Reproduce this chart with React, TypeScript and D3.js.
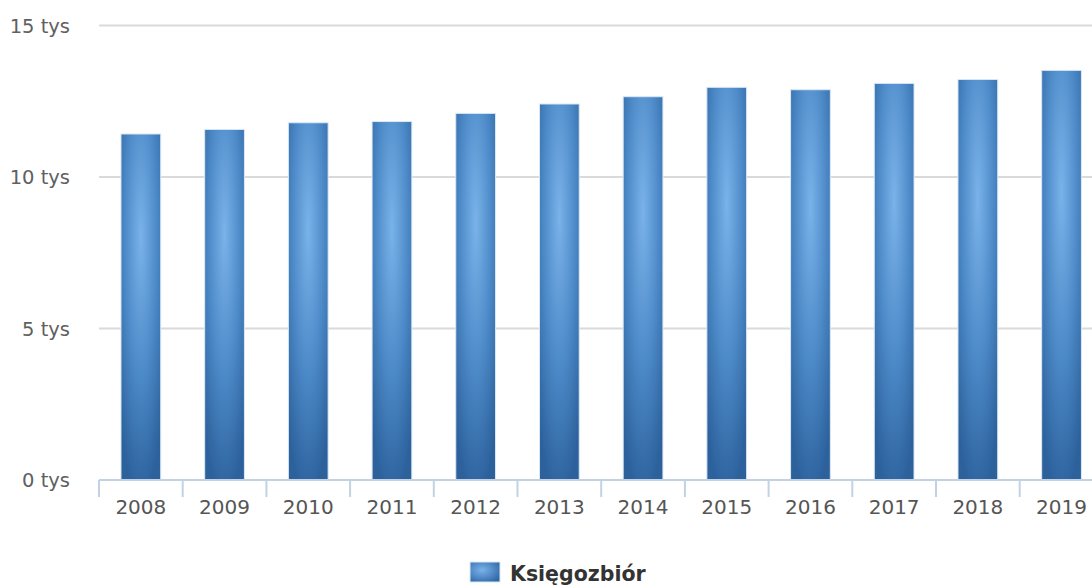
import React from "react";
import * as d3 from "d3";

const years = ["2008", "2009", "2010", "2011", "2012", "2013", "2014", "2015", "2016", "2017", "2018", "2019"];
const values = [11.42, 11.57, 11.79, 11.83, 12.1, 12.41, 12.65, 12.96, 12.88, 13.09, 13.22, 13.52];
const yTicks = [0, 5, 10, 15];
const seriesName = "Księgozbiór";

const W = 1092;
const H = 585;

export default function App() {
  const x = d3.scaleBand<string>().domain(years).range([99, 99 + 12 * 83.7]).padding(0);
  const y = d3.scaleLinear().domain([0, 15]).range([480, 25.5]);
  const barW = x.bandwidth() * 0.475;
  const font = "'DejaVu Sans', 'Open Sans', sans-serif";

  return (
    <svg width={W} height={H} style={{ position: "absolute", left: 0, top: 0, background: "#fff" }}>
      <defs>
        <radialGradient id="barGrad" cx="0.5" cy="0.3" r="0.75" fx="0.5" fy="0.3">
          <stop offset="0%" stopColor="#7ab3ea" />
          <stop offset="55%" stopColor="#4b88c6" />
          <stop offset="100%" stopColor="#2c619c" />
        </radialGradient>
        <radialGradient id="legGrad" cx="0.4" cy="0.4" r="0.7">
          <stop offset="0%" stopColor="#7ab3ea" />
          <stop offset="100%" stopColor="#2f68a6" />
        </radialGradient>
      </defs>

      {yTicks.map((t) => (
        <g key={t}>
          {t > 0 && (
            <line x1={99} x2={W} y1={y(t)} y2={y(t)} stroke="#dadada" strokeWidth={2} />
          )}
          <text
            x={70}
            y={y(t)}
            dy="0.36em"
            textAnchor="end"
            fontFamily={font}
            fontSize={19.5}
            fill="#606060"
          >
            {t} tys
          </text>
        </g>
      ))}

      {years.map((yr, i) => {
        const cx = (x(yr) as number) + x.bandwidth() / 2;
        return (
          <rect
            key={yr}
            x={cx - barW / 2}
            y={y(values[i])}
            width={barW}
            height={y(0) - y(values[i])}
            fill="url(#barGrad)"
            stroke="#dbe8f5"
            strokeWidth={1}
          />
        );
      })}

      <line x1={99} x2={W} y1={480} y2={480} stroke="#c2d2e4" strokeWidth={2} />
      {years.map((yr) => (
        <line
          key={"t" + yr}
          x1={x(yr) as number}
          x2={x(yr) as number}
          y1={480}
          y2={497}
          stroke="#c2d2e4"
          strokeWidth={2}
        />
      ))}
      {years.map((yr) => (
        <text
          key={"l" + yr}
          x={(x(yr) as number) + x.bandwidth() / 2}
          y={514}
          textAnchor="middle"
          fontFamily={font}
          fontSize={20}
          fill="#555"
        >
          {yr}
        </text>
      ))}

      <rect x={470} y={562} width={30} height={20} fill="url(#legGrad)" stroke="#dbe8f5" strokeWidth={1} />
      <text x={510} y={581} fontFamily={font} fontSize={20.5} fontWeight="bold" fill="#333">
        {seriesName}
      </text>
    </svg>
  );
}
